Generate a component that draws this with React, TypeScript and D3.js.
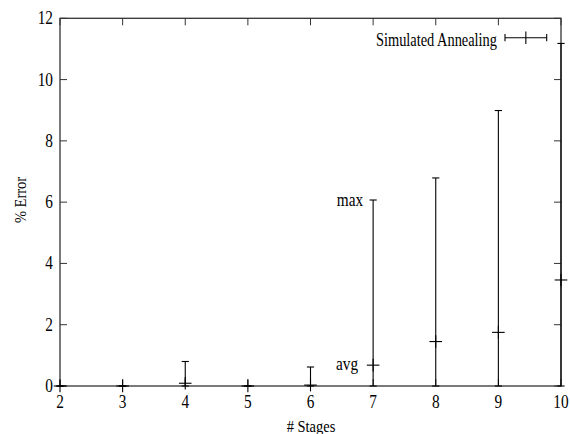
import React from "react";
import * as d3 from "d3";

const stages = [2, 3, 4, 5, 6, 7, 8, 9, 10];
const avgError = [0, 0, 0.09, 0, 0.03, 0.68, 1.45, 1.75, 3.46];
const minError = [0, 0, 0, 0, 0, 0, 0, 0, 0];
const maxError = [0, 0, 0.8, 0, 0.62, 6.07, 6.79, 8.99, 11.18];
const xTicks = [2, 3, 4, 5, 6, 7, 8, 9, 10];
const yTicks = [0, 2, 4, 6, 8, 10, 12];
const seriesName = "Simulated Annealing";

const W = 570;
const H = 434;
const M = { left: 60, right: 561, top: 18.3, bottom: 386 };
const FONT = "'Liberation Serif', 'Times New Roman', serif";

function T({ x, y, anchor = "middle", size = 18, rotate = 0, sx = 0.85, children }: any) {
  return (
    <text
      transform={`translate(${x},${y}) rotate(${rotate}) scale(${sx},1)`}
      textAnchor={anchor}
      dominantBaseline="central"
      fontFamily={FONT}
      fontSize={size}
      fill="#000"
    >
      {children}
    </text>
  );
}

export default function App() {
  const x = d3.scaleLinear().domain([2, 10]).range([M.left, M.right]);
  const y = d3.scaleLinear().domain([0, 12]).range([M.bottom, M.top]);
  const tick = 7;
  const cap = 3.6;
  const ps = 6.3;
  const axisColor = "#333";

  const lx0 = 505;
  const lx1 = 546.7;
  const ly = 37.7;
  const lxm = (lx0 + lx1) / 2;

  return (
    <div style={{ position: "absolute", left: 0, top: 0 }}>
      <svg width={W} height={H} style={{ display: "block", background: "#fff" }}>
        {/* ticks */}
        {yTicks.map((t) => (
          <g key={"y" + t}>
            <line x1={M.left} x2={M.left + tick} y1={y(t)} y2={y(t)} stroke={axisColor} strokeWidth={1} />
            <line x1={M.right} x2={M.right - tick} y1={y(t)} y2={y(t)} stroke={axisColor} strokeWidth={1} />
            <T x={M.left - 7} y={y(t)} anchor="end">{t}</T>
          </g>
        ))}
        {xTicks.map((t) => (
          <g key={"x" + t}>
            <line x1={x(t)} x2={x(t)} y1={M.bottom} y2={M.bottom - tick} stroke={axisColor} strokeWidth={1} />
            <line x1={x(t)} x2={x(t)} y1={M.top} y2={M.top + tick} stroke={axisColor} strokeWidth={1} />
            <T x={x(t)} y={402}>{t}</T>
          </g>
        ))}
        {/* frame */}
        <rect
          x={M.left}
          y={M.top}
          width={M.right - M.left}
          height={M.bottom - M.top}
          fill="none"
          stroke={axisColor}
          strokeWidth={1.3}
        />
        {/* error bars */}
        {stages.map((s, i) => {
          const cx = x(s);
          return (
            <g key={"e" + s} stroke="#000" strokeWidth={1.1}>
              <line x1={cx} x2={cx} y1={y(minError[i])} y2={y(maxError[i])} />
              <line x1={cx - cap} x2={cx + cap} y1={y(maxError[i])} y2={y(maxError[i])} />
              <line x1={cx - cap} x2={cx + cap} y1={y(minError[i])} y2={y(minError[i])} />
              <line x1={cx - ps} x2={cx + ps} y1={y(avgError[i])} y2={y(avgError[i])} />
              <line x1={cx} x2={cx} y1={y(avgError[i]) - ps} y2={y(avgError[i]) + ps} />
            </g>
          );
        })}
        {/* annotations */}
        <T x={x(7) - 10} y={y(maxError[5])} anchor="end">max</T>
        <T x={x(7) - 15} y={y(avgError[5]) - 1} anchor="end">avg</T>
        {/* legend */}
        <T x={497} y={ly + 2} anchor="end" sx={0.8}>{seriesName}</T>
        <g stroke="#000" strokeWidth={1.1}>
          <line x1={lx0} x2={lx1} y1={ly} y2={ly} />
          <line x1={lx0} x2={lx0} y1={ly - cap} y2={ly + cap} />
          <line x1={lx1} x2={lx1} y1={ly - cap} y2={ly + cap} />
          <line x1={lxm} x2={lxm} y1={ly - ps} y2={ly + ps} />
        </g>
        {/* axis titles */}
        <T x={20} y={200} rotate={-90} size={17}>% Error</T>
        <T x={311} y={426} size={17}># Stages</T>
      </svg>
    </div>
  );
}
